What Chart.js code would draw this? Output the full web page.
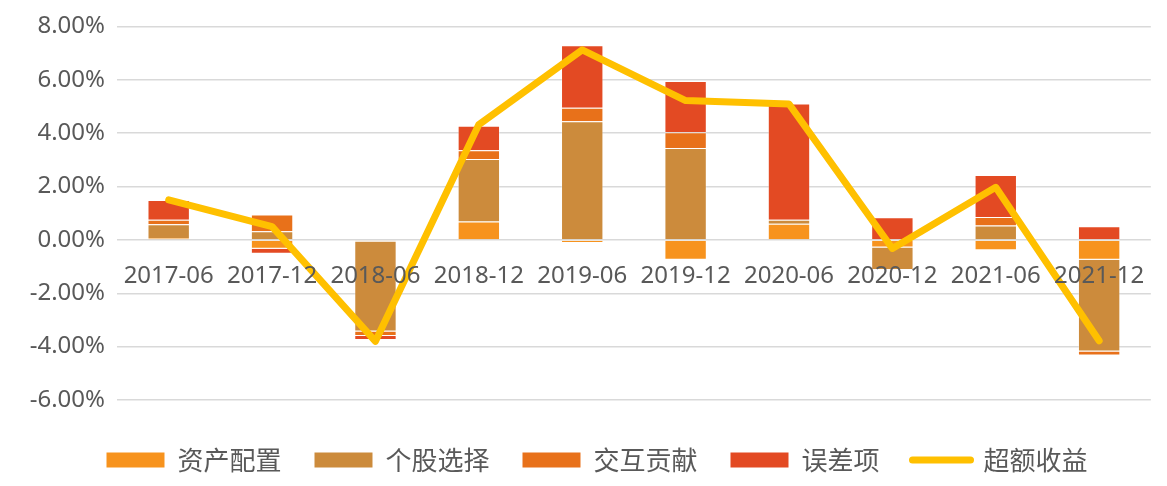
<!DOCTYPE html>
<html>
<head>
<meta charset="utf-8">
<script src="https://cdn.jsdelivr.net/npm/chart.js@4"></script>
<style>
  html, body { margin: 0; padding: 0; background: #fff; }
  #wrap { width: 1167px; height: 486px; }
</style>
</head>
<body>
<div id="wrap"><canvas id="chart"></canvas></div>
<script>
const categories = ["2017-06", "2017-12", "2018-06", "2018-12", "2019-06", "2019-12", "2020-06", "2020-12", "2021-06", "2021-12"];

// 单位：%
const assetAlloc = [0.07, -0.33, -0.06, 0.69, -0.12, -0.74, 0.60, -0.29, -0.39, -0.74];
const stockPick = [0.52, 0.32, -3.37, 2.34, 4.45, 3.44, 0.15, -0.84, 0.54, -3.44];
const interaction = [0.16, 0.63, -0.17, 0.33, 0.50, 0.59, 0, 0, 0.32, -0.15];
const residual = [0.74, -0.19, -0.15, 0.92, 2.34, 1.92, 4.36, 0.85, 1.57, 0.51];
const excessReturn = [1.50, 0.50, -3.80, 4.32, 7.12, 5.22, 5.09, -0.32, 1.97, -3.78];

const yTicks = [-6, -4, -2, 0, 2, 4, 6, 8];

const labelColor = "#595959";

function barSet(label, data, color) {
  return {
    type: "bar",
    label: label,
    data: data,
    backgroundColor: color,
    borderColor: "rgba(255,255,255,0.3)",
    borderWidth: 1,
    barPercentage: 0.41,
    categoryPercentage: 1,
    order: 1
  };
}

// legend sits low and a bit to the right, like the Excel original
const legendPlacement = {
  id: "legendPlacement",
  beforeInit(chart) {
    const fit = chart.legend.fit;
    chart.legend.fit = function () {
      fit.bind(chart.legend)();
      this.height = 72;
    };
  },
  afterLayout(chart) {
    chart.legend.left = 40;
  }
};

new Chart(document.getElementById("chart"), {
  type: "bar",
  data: {
    labels: categories,
    datasets: [
      barSet("资产配置", assetAlloc, "#F7931E"),
      barSet("个股选择", stockPick, "#CC8B3C"),
      barSet("交互贡献", interaction, "#E8711A"),
      barSet("误差项", residual, "#E34A23"),
      {
        type: "line",
        label: "超额收益",
        data: excessReturn,
        borderColor: "#FFC000",
        backgroundColor: "#FFC000",
        borderWidth: 7,
        borderJoinStyle: "round",
        borderCapStyle: "round",
        pointRadius: 0,
        tension: 0,
        fill: false,
        order: 0
      }
    ]
  },
  options: {
    responsive: true,
    maintainAspectRatio: false,
    animation: false,
    layout: {
      padding: { top: 24, left: 0, right: 13, bottom: 0 }
    },
    plugins: {
      legend: {
        position: "bottom",
        labels: {
          usePointStyle: true,
          pointStyleWidth: 58,
          boxHeight: 15,
          padding: 33,
          color: labelColor,
          font: { family: "'Noto Sans CJK SC', 'Noto Sans'", size: 26 },
          generateLabels: chart => chart.data.datasets.map((ds, i) => ({
            text: ds.label,
            fillStyle: ds.backgroundColor,
            strokeStyle: ds.type === "line" ? ds.borderColor : ds.backgroundColor,
            lineWidth: ds.type === "line" ? 7 : 0,
            lineCap: "round",
            pointStyle: ds.type === "line" ? "line" : "rect",
            fontColor: labelColor,
            hidden: false,
            datasetIndex: i
          }))
        }
      },
      tooltip: { enabled: false }
    },
    scales: {
      x: {
        stacked: true,
        position: { y: 0 },
        grid: { display: false, drawTicks: false },
        border: { display: false },
        ticks: {
          z: 1,
          color: labelColor,
          padding: 22,
          maxRotation: 0,
          autoSkip: false,
          font: { family: "'Noto Sans'", size: 24 }
        }
      },
      spacer: {
        type: "category",
        position: "bottom",
        grid: { display: false, drawTicks: false },
        border: { display: false },
        ticks: { display: false },
        afterFit: scale => { scale.height = 14; }
      },
      y: {
        stacked: true,
        min: -6,
        max: 8,
        afterFit: scale => { scale.width = 117; },
        afterBuildTicks: scale => { scale.ticks = yTicks.map(v => ({ value: v })); },
        grid: { color: "#D9D9D9", lineWidth: 1.5, drawTicks: false },
        border: { display: false },
        ticks: {
          color: labelColor,
          padding: 12,
          font: { family: "'Noto Sans'", size: 24 },
          callback: v => v.toFixed(2) + "%"
        }
      }
    }
  },
  plugins: [legendPlacement]
});
</script>
</body>
</html>
